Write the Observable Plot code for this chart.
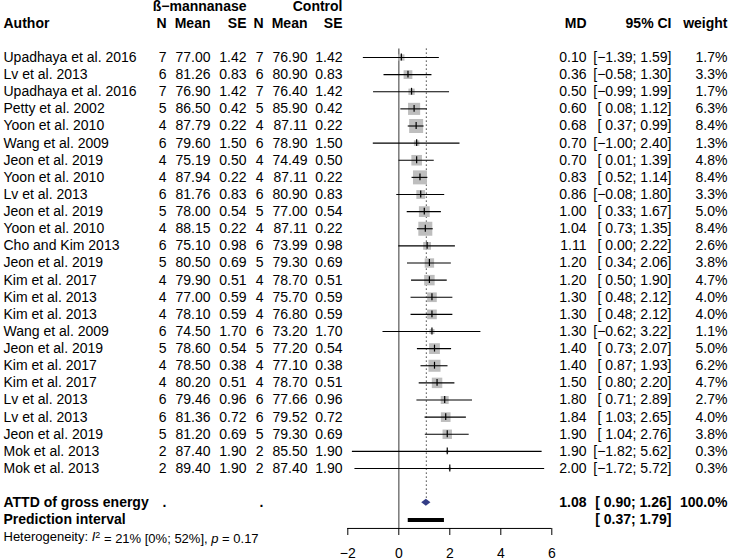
<!DOCTYPE html>
<html>
<head>
<meta charset="utf-8">
<script src="https://cdn.jsdelivr.net/npm/d3@7"></script>
<script src="https://cdn.jsdelivr.net/npm/@observablehq/plot@0.6"></script>
<style>
  body { margin: 0; background: #fff; }
  #chart { width: 729px; height: 560px; }
</style>
</head>
<body>
<div id="chart"></div>
<script>
// ---- data ----
const authors = ["Upadhaya et al. 2016","Lv et al. 2013","Upadhaya et al. 2016","Petty et al. 2002","Yoon et al. 2010","Wang et al. 2009","Jeon et al. 2019","Yoon et al. 2010","Lv et al. 2013","Jeon et al. 2019","Yoon et al. 2010","Cho and Kim 2013","Jeon et al. 2019","Kim et al. 2017","Kim et al. 2013","Kim et al. 2013","Wang et al. 2009","Jeon et al. 2019","Kim et al. 2017","Kim et al. 2017","Lv et al. 2013","Lv et al. 2013","Jeon et al. 2019","Mok et al. 2013","Mok et al. 2013"];
const nE = [7,6,7,5,4,6,4,4,6,5,4,6,5,4,4,4,6,5,4,4,6,6,5,2,2];
const meanE = [77.00,81.26,76.90,86.50,87.79,79.60,75.19,87.94,81.76,78.00,88.15,75.10,80.50,79.90,77.00,78.10,74.50,78.60,78.50,80.20,79.46,81.36,81.20,87.40,89.40];
const seE = [1.42,0.83,1.42,0.42,0.22,1.50,0.50,0.22,0.83,0.54,0.22,0.98,0.69,0.51,0.59,0.59,1.70,0.54,0.38,0.51,0.96,0.72,0.69,1.90,1.90];
const nC = [7,6,7,5,4,6,4,4,6,5,4,6,5,4,4,4,6,5,4,4,6,6,5,2,2];
const meanC = [76.90,80.90,76.40,85.90,87.11,78.90,74.49,87.11,80.90,77.00,87.11,73.99,79.30,78.70,75.70,76.80,73.20,77.20,77.10,78.70,77.66,79.52,79.30,85.50,87.40];
const seC = [1.42,0.83,1.42,0.42,0.22,1.50,0.50,0.22,0.83,0.54,0.22,0.98,0.69,0.51,0.59,0.59,1.70,0.54,0.38,0.51,0.96,0.72,0.69,1.90,1.90];
const md = [0.10,0.36,0.50,0.60,0.68,0.70,0.70,0.83,0.86,1.00,1.04,1.11,1.20,1.20,1.30,1.30,1.30,1.40,1.40,1.50,1.80,1.84,1.90,1.90,2.00];
const lower = [-1.39,-0.58,-0.99,0.08,0.37,-1.00,0.01,0.52,-0.08,0.33,0.73,0.00,0.34,0.50,0.48,0.48,-0.62,0.73,0.87,0.80,0.71,1.03,1.04,-1.82,-1.72];
const upper = [1.59,1.30,1.99,1.12,0.99,2.40,1.39,1.14,1.80,1.67,1.35,2.22,2.06,1.90,2.12,2.12,3.22,2.07,1.93,2.20,2.89,2.65,2.76,5.62,5.72];
const weight = [1.7,3.3,1.7,6.3,8.4,1.3,4.8,8.4,3.3,5.0,8.4,2.6,3.8,4.7,4.0,4.0,1.1,5.0,6.2,4.7,2.7,4.0,3.8,0.3,0.3];

const pooledLabel = "ATTD of gross energy";
const pooledMD = 1.08, pooledLower = 0.90, pooledUpper = 1.26, pooledWeight = 100.0;
const predLabel = "Prediction interval";
const predLower = 0.37, predUpper = 1.79;
const hetText = "Heterogeneity: I2 = 21% [0%; 52%], p = 0.17";
const xTicks = [-2, 0, 2, 4, 6];
const groupE = "ß\u2212mannanase", groupC = "Control";

// ---- helpers ----
const minus = s => s.replace(/-/g, "\u2212");
const f2 = v => minus(v.toFixed(2));
const pad = v => (v < 0 ? "" : " ") + f2(v);
const ci = (lo, hi) => "[" + pad(lo) + "; " + f2(hi) + "]";

const rows = authors.map((a, i) => ({
  row: i + 1, author: a,
  nE: nE[i], meanE: meanE[i], seE: seE[i],
  nC: nC[i], meanC: meanC[i], seC: seC[i],
  md: md[i], lower: lower[i], upper: upper[i], weight: weight[i]
}));

const groupRow = -1.95, headRow = -1, sumRow = 27, predRow = 28, hetRow = 29, axisRow = 28.5;
const FONT = "'Liberation Sans', Arial, Helvetica, sans-serif";
const FS = 14;

// column right edges (px from left)
const col = { author: 3, nE: 166, meanE: 210, seE: 246, nC: 263, meanC: 307, seC: 342, md: 586, ci: 671, w: 727 };

const txt = (data, field, dx, extra = {}) => Plot.text(data, {
  y: "row", text: field, frameAnchor: "left", dx,
  textAnchor: "end", fontSize: FS, fill: "black", ...extra
});

const headers = [
  {row: groupRow, t: groupE, dx: col.seE, anchor: "end"},
  {row: groupRow, t: groupC, dx: col.seC, anchor: "end"},
  {row: headRow, t: "Author", dx: col.author, anchor: "start"},
  {row: headRow, t: "N", dx: col.nE, anchor: "end"},
  {row: headRow, t: "Mean", dx: col.meanE, anchor: "end"},
  {row: headRow, t: "SE", dx: col.seE, anchor: "end"},
  {row: headRow, t: "N", dx: col.nC, anchor: "end"},
  {row: headRow, t: "Mean", dx: col.meanC, anchor: "end"},
  {row: headRow, t: "SE", dx: col.seC, anchor: "end"},
  {row: headRow, t: "MD", dx: col.md, anchor: "end"},
  {row: headRow, t: "95% CI", dx: col.ci, anchor: "end"},
  {row: headRow, t: "weight", dx: col.w, anchor: "end"}
];

const summaryTexts = [
  {row: sumRow, t: pooledLabel, dx: col.author, anchor: "start"},
  {row: sumRow, t: ".", dx: col.nE, anchor: "end"},
  {row: sumRow, t: ".", dx: col.nC, anchor: "end"},
  {row: sumRow, t: f2(pooledMD), dx: col.md, anchor: "end"},
  {row: sumRow, t: ci(pooledLower, pooledUpper), dx: col.ci, anchor: "end"},
  {row: sumRow, t: pooledWeight.toFixed(1) + "%", dx: col.w, anchor: "end"},
  {row: predRow, t: predLabel, dx: col.author, anchor: "start"},
  {row: predRow, t: ci(predLower, predUpper), dx: col.ci, anchor: "end"}
];

const diamond = [
  {x: pooledLower, y1: sumRow, y2: sumRow},
  {x: pooledMD, y1: sumRow - 0.2, y2: sumRow + 0.2},
  {x: pooledUpper, y1: sumRow, y2: sumRow}
];

const labelMarks = (data) => data.map(d => Plot.text([d], {
  y: "row", text: "t", frameAnchor: "left", dx: d.dx, textAnchor: d.anchor,
  fontSize: FS, fontWeight: "bold", fill: "black"
}));

const chart = Plot.plot({
  width: 729, height: 560,
  marginTop: 0, marginBottom: 32, marginLeft: 0, marginRight: 0,
  style: {fontFamily: FONT, fontSize: FS + "px", background: "white", overflow: "visible"},
  x: {domain: [-2, 6], range: [347.3, 551.3], axis: null},
  y: {type: "linear", domain: [1, 25], range: [57, 468], axis: null},
  r: {type: "sqrt", domain: [0, 8.4], range: [0, 7.9]},
  marks: [
    // reference lines
    Plot.ruleX([0], {y1: 0.5, y2: axisRow, stroke: "#808080", strokeWidth: 1.6}),
    Plot.ruleX([pooledMD], {y1: 0.5, y2: sumRow, stroke: "#333", strokeWidth: 1.1, strokeDasharray: "1.3,2.7"}),
    // study squares, CIs, point ticks
    Plot.dot(rows, {x: "md", y: "row", r: "weight", symbol: "square", fill: "#bebebe", stroke: null}),
    Plot.ruleY(rows, {y: "row", x1: "lower", x2: "upper", stroke: "black", strokeWidth: 1.1}),
    Plot.ruleX(rows, {x: "md", y1: d => d.row - 0.2, y2: d => d.row + 0.2, stroke: "black", strokeWidth: 1.2}),
    // pooled diamond and prediction interval
    Plot.areaY(diamond, {x: "x", y1: "y1", y2: "y2", fill: "#343d86"}),
    Plot.ruleY([{lo: predLower, hi: predUpper}], {y: () => predRow, x1: "lo", x2: "hi", stroke: "black", strokeWidth: 4}),
    // axis
    Plot.ruleY([axisRow], {x1: () => xTicks[0], x2: () => xTicks[xTicks.length - 1], stroke: "black", strokeWidth: 1}),
    Plot.axisX({ticks: xTicks, anchor: "bottom", tickSize: 7, tickPadding: 13, fontSize: FS, stroke: "black", fill: "black"}),
    // table texts
    txt(rows, "author", col.author, {textAnchor: "start"}),
    txt(rows, d => String(d.nE), col.nE),
    txt(rows, d => f2(d.meanE), col.meanE),
    txt(rows, d => f2(d.seE), col.seE),
    txt(rows, d => String(d.nC), col.nC),
    txt(rows, d => f2(d.meanC), col.meanC),
    txt(rows, d => f2(d.seC), col.seC),
    txt(rows, d => f2(d.md), col.md),
    txt(rows, d => ci(d.lower, d.upper), col.ci),
    txt(rows, d => d.weight.toFixed(1) + "%", col.w),
    ...labelMarks(headers),
    ...labelMarks(summaryTexts),
    Plot.text([{row: hetRow, t: hetText}], {y: "row", text: "t", frameAnchor: "left", dx: 3, textAnchor: "start", fontSize: 13, fill: "black"})
  ]
});

document.getElementById("chart").appendChild(chart);

// rich formatting for heterogeneity line (italic I, superscript 2, italic p)
d3.select(chart).selectAll("text").each(function() {
  if (this.textContent === hetText) {
    const t = d3.select(this);
    t.text(null);
    t.append("tspan").text("Heterogeneity: ");
    t.append("tspan").attr("font-style", "italic").text("I");
    t.append("tspan").attr("font-size", "9px").attr("dy", "-0.4em").text("2");
    t.append("tspan").attr("dy", "0.4em").text(" = 21% [0%; 52%], ");
    t.append("tspan").attr("font-style", "italic").text("p");
    t.append("tspan").text(" = 0.17");
  }
});
</script>
</body>
</html>
